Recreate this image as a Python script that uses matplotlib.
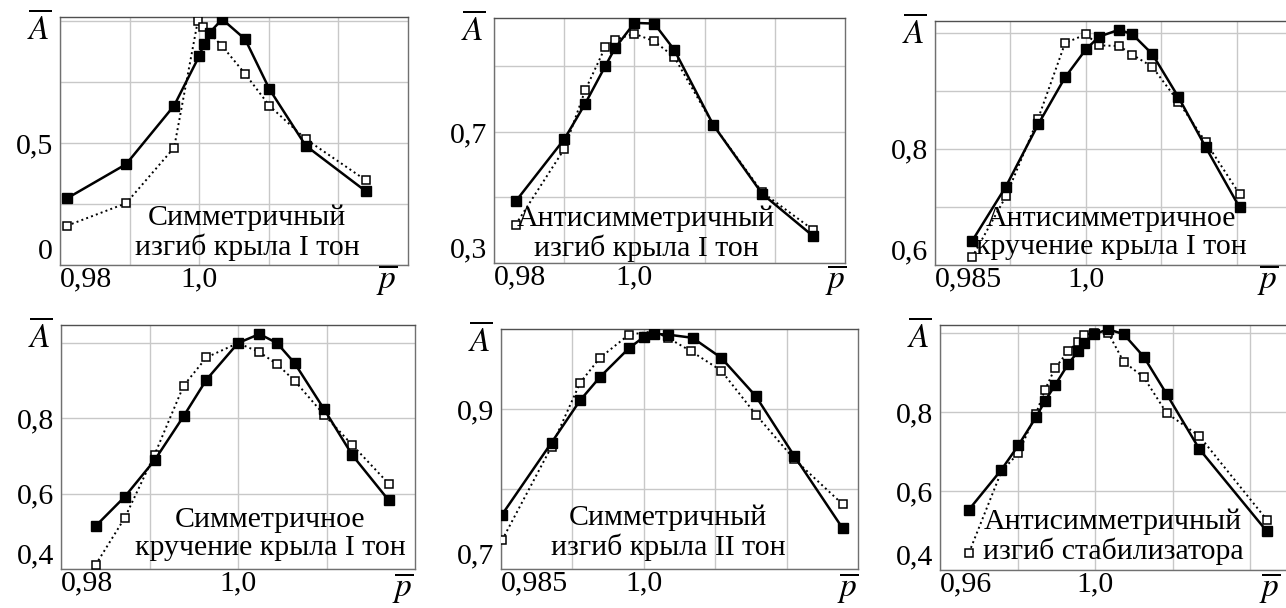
import matplotlib
matplotlib.use("Agg")
import matplotlib.pyplot as plt

plt.rcParams['font.family'] = ['Liberation Serif', 'DejaVu Serif']
plt.rcParams['mathtext.fontset'] = 'stix'

W, H = 1286, 608

# --- data (p, A) ---
# 1. symmetric wing bending, tone I
p1_solid_x = [0.981, 0.9895, 0.9964, 1.0, 1.0007, 1.0015, 1.0033, 1.0066, 1.0101, 1.0153, 1.0239]
p1_solid_y = [0.273, 0.413, 0.653, 0.856, 0.907, 0.952, 1.007, 0.925, 0.720, 0.489, 0.303]
p1_open_x = [0.981, 0.9895, 0.9964, 0.9998, 1.0006, 1.0033, 1.0066, 1.0101, 1.0153, 1.0239]
p1_open_y = [0.161, 0.253, 0.481, 1.000, 0.976, 0.897, 0.783, 0.652, 0.516, 0.348]

# 2. antisymmetric wing bending, tone I
p2_x = [0.98308, 0.99004, 0.99298, 0.99587, 0.99724, 1.0, 1.00283, 1.00567, 1.01125, 1.01821, 1.02541]
p2_solid_y = [0.488, 0.679, 0.786, 0.902, 0.956, 1.033, 1.031, 0.951, 0.721, 0.511, 0.383]
p2_open_y = [0.417, 0.649, 0.827, 0.960, 0.982, 1.000, 0.977, 0.929, 0.721, 0.516, 0.402]

# 3. antisymmetric wing torsion, tone I
p3_x = [0.98868, 0.99205, 0.99526, 0.99794, 1.0, 1.00132, 1.00331, 1.00464, 1.00662, 1.00921, 1.01192, 1.0153]
p3_solid_y = [0.641, 0.735, 0.842, 0.923, 0.971, 0.993, 1.005, 0.997, 0.963, 0.889, 0.803, 0.699]
p3_open_y = [0.613, 0.718, 0.852, 0.982, 0.997, 0.978, 0.977, 0.962, 0.941, 0.881, 0.812, 0.722]

# 4. symmetric wing torsion, tone I
p4_x = [0.98391, 0.98721, 0.99058, 0.99386, 0.99644, 1.0, 1.00242, 1.00441, 1.00639, 1.00971, 1.01293, 1.01701]
p4_solid_y = [0.514, 0.592, 0.689, 0.806, 0.903, 1.000, 1.024, 1.000, 0.947, 0.825, 0.702, 0.583]
p4_open_y = [0.411, 0.536, 0.704, 0.887, 0.962, 1.000, 0.976, 0.944, 0.900, 0.810, 0.729, 0.627]

# 5. symmetric wing bending, tone II
p5_solid_x = [0.98511, 0.99031, 0.99332, 0.9954, 0.99844, 1.0, 1.00104, 1.00252, 1.00512, 1.00813, 1.01177, 1.01582, 1.02088]
p5_solid_y = [0.768, 0.858, 0.911, 0.940, 0.976, 0.990, 0.994, 0.993, 0.989, 0.964, 0.916, 0.841, 0.751]
p5_open_x = [0.98511, 0.99031, 0.99332, 0.9954, 0.99844, 1.00104, 1.00252, 1.005, 1.00813, 1.01177, 1.01582, 1.02088]
p5_open_y = [0.736, 0.853, 0.933, 0.964, 0.993, 0.997, 0.989, 0.972, 0.948, 0.893, 0.837, 0.781]

# 6. antisymmetric stabilizer bending
p6_solid_x = [0.96748, 0.97585, 0.98023, 0.9847, 0.98702, 0.9896, 0.99303, 0.99561, 0.99716, 0.99974,
              1.00335, 1.00733, 1.01249, 1.01843, 1.02684, 1.04423]
p6_solid_y = [0.553, 0.654, 0.716, 0.786, 0.827, 0.867, 0.921, 0.954, 0.975, 0.997,
              1.009, 0.997, 0.940, 0.845, 0.706, 0.498]
p6_open_x = [0.96748, 0.97585, 0.98023, 0.9847, 0.98702, 0.9896, 0.99303, 0.99561, 0.99716, 0.99974,
             1.00335, 1.00733, 1.01249, 1.01843, 1.02684, 1.04423]
p6_open_y = [0.444, 0.650, 0.696, 0.795, 0.855, 0.910, 0.954, 0.977, 0.994, 1.001,
             1.000, 0.927, 0.888, 0.797, 0.739, 0.527]

captions = [
    "Симметричный\nизгиб крыла I тон",
    "Антисимметричный\nизгиб крыла I тон",
    "Антисимметричное\nкручение крыла I тон",
    "Симметричное\nкручение крыла I тон",
    "Симметричный\nизгиб крыла II тон",
    "Антисимметричный\nизгиб стабилизатора",
]

fig = plt.figure(figsize=(W / 100, H / 100), dpi=100)


def px_axes(left, top, right, bottom):
    # axes box given in pixels of the reference image
    return fig.add_axes([left / W, 1 - bottom / H, (right - left) / W, (bottom - top) / H])


def draw_panel(ax, xs, ys, xo, yo, xlim, ylim, xgrid, xlabels, ygrid, ylabels):
    ax.plot(xo, yo, color='black', lw=1.4, ls=':', marker='s', ms=6.0,
            mfc='white', mec='black', mew=1.1, zorder=3)
    ax.plot(xs, ys, color='black', lw=1.8, marker='s', ms=6.6,
            mfc='black', mec='black', zorder=4)
    ax.set_xlim(*xlim)
    ax.set_ylim(*ylim)
    ax.set_xticks(xgrid, labels=xlabels)
    ax.set_yticks(ygrid, labels=ylabels)
    ax.get_xticklabels()[0].set_horizontalalignment('left')
    ax.get_yticklabels()[0].set_verticalalignment('bottom')
    ax.tick_params(length=0, labelsize=21.5, pad=1)
    ax.tick_params(axis='y', pad=5)
    ax.grid(True, color='#c8c8c8', lw=1.0)
    ax.set_axisbelow(True)
    for s in ax.spines.values():
        s.set_color('#707070')
        s.set_linewidth(1.0)
    ax.spines['top'].set_color('#505050')
    ax.annotate(r'$\overline{A}$', xy=(0, 1), xycoords='axes fraction',
                xytext=(-9, -12), textcoords='offset pixels',
                ha='right', va='center', fontsize=24)


ax1 = px_axes(60, 17, 408, 265)
draw_panel(ax1, p1_solid_x, p1_solid_y, p1_open_x, p1_open_y,
           (0.98, 1.03), (0.0, 1.016),
           [0.98, 0.99, 1.0, 1.01, 1.02], ['0,98', '', '1,0', '', ''],
           [0.0, 0.25, 0.5, 0.75, 1.0], ['0', '', '0,5', '', ''])

ax2 = px_axes(494, 18, 845, 263)
draw_panel(ax2, p2_x, p2_solid_y, p2_x, p2_open_y,
           (0.98, 1.03), (0.3, 1.048),
           [0.98, 0.99, 1.0, 1.01, 1.02], ['0,98', '', '1,0', '', ''],
           [0.3, 0.5, 0.7, 0.9], ['0,3', '', '0,7', ''])

ax3 = px_axes(935, 21, 1312, 265)
draw_panel(ax3, p3_x, p3_solid_y, p3_x, p3_open_y,
           (0.985, 1.0225), (0.6, 1.02),
           [0.985, 0.9925, 1.0, 1.0075, 1.015], ['0,985', '', '1,0', '', ''],
           [0.6, 0.7, 0.8, 0.9, 1.0], ['0,6', '', '0,8', '', ''])

ax4 = px_axes(61, 325, 415, 569)
draw_panel(ax4, p4_x, p4_solid_y, p4_x, p4_open_y,
           (0.98, 1.02), (0.4, 1.048),
           [0.98, 0.99, 1.0, 1.01], ['0,98', '', '1,0', ''],
           [0.4, 0.6, 0.8, 1.0], ['0,4', '0,6', '0,8', ''])

ax5 = px_axes(501, 329, 858, 569)
draw_panel(ax5, p5_solid_x, p5_solid_y, p5_open_x, p5_open_y,
           (0.985, 1.0225), (0.7, 1.0),
           [0.985, 0.9925, 1.0, 1.0075, 1.015], ['0,985', '', '1,0', '', ''],
           [0.7, 0.8, 0.9], ['0,7', '', '0,9'])

ax6 = px_axes(940, 325, 1328, 570)
draw_panel(ax6, p6_solid_x, p6_solid_y, p6_open_x, p6_open_y,
           (0.96, 1.06), (0.4, 1.02),
           [0.96, 0.98, 1.0, 1.02, 1.04], ['0,96', '', '1,0', '', ''],
           [0.4, 0.6, 0.8, 1.0], ['0,4', '0,6', '0,8', ''])

# captions and the p-bar axis label, placed in reference pixels
caption_pos = [(247, 233), (646, 234), (1111, 233), (270, 534), (668, 533), (1113, 537)]
pbar_pos = [(387, 280), (836, 280), (1268, 280), (403, 588), (848, 588), (1270, 588)]
for text, (cx, cy) in zip(captions, caption_pos):
    fig.text(cx / W, 1 - cy / H, text, ha='center', va='center',
             fontsize=21.5, linespacing=1.1)
for (cx, cy) in pbar_pos:
    fig.text(cx / W, 1 - cy / H, r'$\overline{p}$', ha='center', va='center', fontsize=24)

fig.savefig('out.png', dpi=100)
